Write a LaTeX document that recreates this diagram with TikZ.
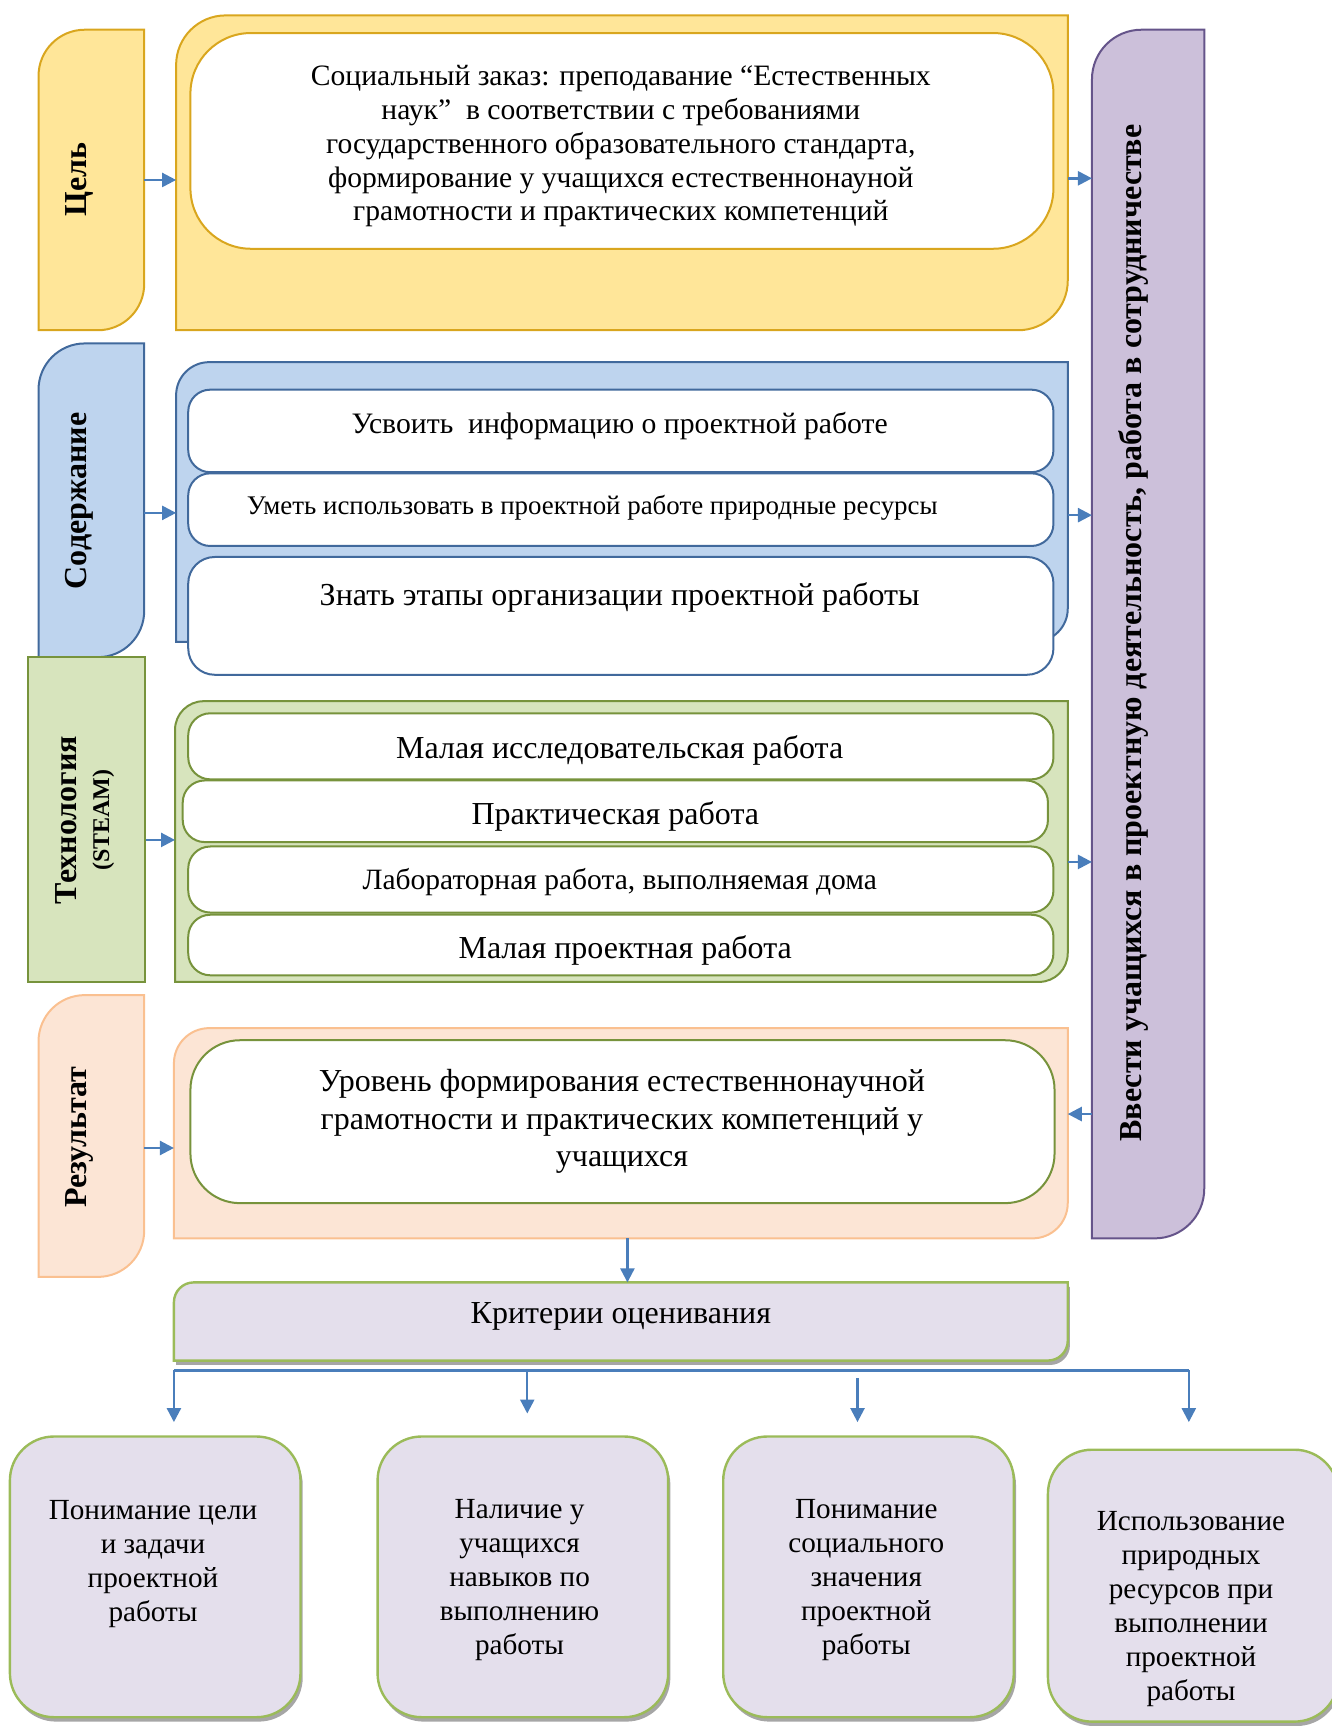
\documentclass[tikz,border=0pt]{standalone}
\usepackage{fontspec}
\setmainfont{Liberation Serif}
\usetikzlibrary{arrows.meta}
\definecolor{yelF}{HTML}{FFE699}
\definecolor{yelD}{HTML}{D9A61E}
\definecolor{bluF}{HTML}{BED4EE}
\definecolor{bluD}{HTML}{41699C}
\definecolor{grnF}{HTML}{D7E4BD}
\definecolor{grnD}{HTML}{77933C}
\definecolor{pchF}{HTML}{FCE5D5}
\definecolor{pchD}{HTML}{FAC090}
\definecolor{purF}{HTML}{CCC0DA}
\definecolor{purD}{HTML}{65548A}
\definecolor{lavF}{HTML}{E4DFEC}
\definecolor{lavD}{HTML}{9BBB59}
\definecolor{arrC}{HTML}{4A7EBB}
\newcommand\UU{0.5504pt}
\newcommand\fs[2]{\fontsize{#1}{#2}\selectfont}
% box rounded at top-left and bottom-right: name, x1,y1,x2,y2,r, style
\newcommand\tlbr[7]{%
  \path[#7] (#2,#5) -- (#2,#3+#6) arc[start angle=180,end angle=270,radius=#6]
     -- (#4,#3) -- (#4,#5-#6) arc[start angle=0,end angle=90,radius=#6] -- cycle;
  \node[anchor=center,inner sep=0pt,outer sep=0pt,minimum width={(#4-#2)*\UU},minimum height={(#5-#3)*\UU}] (#1) at ({(#2+#4)/2},{(#3+#5)/2}) {};}
% box rounded at all corners
\newcommand\allr[7]{%
  \path[#7] (#2,#3+#6) arc[start angle=180,end angle=270,radius=#6]
     -- (#4-#6,#3) arc[start angle=270,end angle=360,radius=#6]
     -- (#4,#5-#6) arc[start angle=0,end angle=90,radius=#6]
     -- (#2+#6,#5) arc[start angle=90,end angle=180,radius=#6] -- cycle;
  \node[anchor=center,inner sep=0pt,outer sep=0pt,minimum width={(#4-#2)*\UU},minimum height={(#5-#3)*\UU}] (#1) at ({(#2+#4)/2},{(#3+#5)/2}) {};}
\tikzset{
  arr/.style={draw=arrC,line width=1.2pt,-{Triangle[length=7pt,width=7pt]}},
  conn/.style={draw=arrC,line width=1.2pt},
  yelbox/.style={fill=yelF,draw=yelD,line width=1pt},
  whyel/.style={fill=white,draw=yelD,line width=1pt},
  blubox/.style={fill=bluF,draw=bluD,line width=1pt},
  whblu/.style={fill=white,draw=bluD,line width=1pt},
  grnbox/.style={fill=grnF,draw=grnD,line width=1pt},
  whgrn/.style={fill=white,draw=grnD,line width=1pt},
  pchbox/.style={fill=pchF,draw=pchD,line width=1pt},
  purbox/.style={fill=purF,draw=purD,line width=1pt},
  lavbox/.style={fill=lavF,draw=lavD,line width=1.2pt},
  shad/.style={fill=black!35,draw=none,shift={(2,4)}},
  txt/.style={anchor=center,inner sep=0pt,align=center,text=black},
  lbl/.style={anchor=center,inner sep=0pt,align=center,rotate=90,font=\bfseries\fs{16}{19}},
}
\begin{document}
\begin{tikzpicture}[x=0.5504pt,y=-0.5504pt]
\useasboundingbox (0,0) rectangle (1210,1568);
\clip (0,0) rectangle (1210,1568);
% ---------- Goal ----------
\tlbr{cel}{35}{27}{131}{300}{42}{yelbox}
\tlbr{yel}{160}{14}{970}{300}{45}{yelbox}
\allr{goal}{173}{30}{957}{226}{55}{whyel}
\node[lbl] (tcel) at (72,163) {Цель};
\node[txt,font=\fs{14.8}{16.9}] (tgoal) at (564,133) {Социальный заказ: преподавание “Естественных\\наук”~ в соответствии с требованиями\\государственного образовательного стандарта,\\формирование у учащихся естественнонауной\\грамотности и практических компетенций};
% ---------- Purple ----------
\tlbr{pur}{992}{27}{1094}{1125}{45}{purbox}
\node[lbl] (tpur) at (1030,575) {Ввести учащихся в проектную деятельность, работа в сотрудничестве};
% ---------- Content ----------
\tlbr{sod}{35}{312}{131}{597}{42}{blubox}
\tlbr{blu}{160}{329}{970}{583}{30}{blubox}
\allr{c1}{171}{354}{957}{429}{20}{whblu}
\allr{c2}{171}{430}{957}{496}{20}{whblu}
\allr{c3}{171}{506}{957}{613}{24}{whblu}
\node[lbl] (tsod) at (72,455) {Содержание};
\node[txt,font=\fs{14.85}{17}] (tc1) at (563,387) {Усвоить~ информацию о проектной работе};
\node[txt,font=\fs{13.45}{15}] (tc2) at (538,461) {Уметь использовать в проектной работе природные ресурсы};
\node[txt,font=\fs{16}{18}] (tc3) at (563,543) {Знать этапы организации проектной работы};
% ---------- Technology ----------
\path[grnbox] (25,597) rectangle (132,892);
\node[anchor=center,inner sep=0pt,minimum width={107*\UU},minimum height={295*\UU}] (tech) at (78.5,744.5) {};
\tlbr{grn}{159}{637}{970}{892}{26}{grnbox}
\allr{g1}{171}{648}{957}{708}{20}{whgrn}
\allr{g2}{166}{709}{952}{765}{20}{whgrn}
\allr{g3}{171}{769}{957}{829}{20}{whgrn}
\allr{g4}{171}{831}{957}{886}{20}{whgrn}
\node[lbl,font=\bfseries\fs{16}{16.5}] (ttech) at (77,745) {Технология\\{\fs{12}{12}(STEAM)}};
\node[txt,font=\fs{16}{18}] (tg1) at (563,682) {Малая исследовательская работа};
\node[txt,font=\fs{16}{18}] (tg2) at (559,742) {Практическая работа};
\node[txt,font=\fs{14.75}{16}] (tg3) at (563,801) {Лабораторная работа, выполняемая дома};
\node[txt,font=\fs{16}{18}] (tg4) at (568,863) {Малая проектная работа};
% ---------- Result ----------
\tlbr{res}{35}{904}{131}{1160}{42}{pchbox}
\tlbr{pch}{158}{934}{970}{1125}{32}{pchbox}
\allr{rin}{173}{945}{958}{1093}{45}{whgrn}
\node[lbl] (tres) at (72,1033) {Результат};
\node[txt,font=\fs{16}{18.7}] (trin) at (565,1019) {Уровень формирования естественнонаучной\\грамотности и практических компетенций у\\учащихся};
% ---------- Criteria ----------
\tlbr{critsh}{158}{1165}{970}{1236}{18}{shad}
\tlbr{crit}{158}{1165}{970}{1236}{18}{lavbox}
\node[txt,font=\fs{16}{18}] (tcrit) at (564,1196) {Критерии оценивания};
% ---------- Bottom boxes ----------
\allr{b1s}{9}{1305}{273}{1560}{40}{shad}
\allr{b1}{9}{1305}{273}{1560}{40}{lavbox}
\allr{b2s}{343}{1305}{607}{1560}{40}{shad}
\allr{b2}{343}{1305}{607}{1560}{40}{lavbox}
\allr{b3s}{657}{1305}{921}{1560}{40}{shad}
\allr{b3}{657}{1305}{921}{1560}{40}{lavbox}
\allr{b4s}{952}{1317}{1216}{1564}{40}{shad}
\allr{b4}{952}{1317}{1216}{1564}{40}{lavbox}
\node[txt,font=\fs{14.6}{17}] (tb1) at (139,1420.5) {Понимание цели\\и задачи\\проектной\\работы};
\node[txt,font=\fs{14.6}{17}] (tb2) at (472,1435.5) {Наличие у\\учащихся\\навыков по\\выполнению\\работы};
\node[txt,font=\fs{14.6}{17}] (tb3) at (787,1435.5) {Понимание\\социального\\значения\\проектной\\работы};
\node[txt,font=\fs{14.6}{17}] (tb4) at (1082,1462) {Использование\\природных\\ресурсов при\\выполнении\\проектной\\работы};
% ---------- Connectors ----------
\draw[arr] (cel.east) -- (cel.east -| yel.west);
\draw[arr] ([yshift=-2.75pt]yel.east) -- ([yshift=-2.75pt]yel.east -| pur.west);
\draw[arr] ([yshift=-6.3pt]sod.east) -- ([yshift=-6.3pt]sod.east -| blu.west);
\draw[arr] ([yshift=-6.6pt]blu.east) -- ([yshift=-6.6pt]blu.east -| pur.west);
\draw[arr] ([yshift=-10.2pt]tech.east) -- ([yshift=-10.2pt]tech.east -| grn.west);
\draw[arr] ([yshift=-10.2pt]grn.east) -- ([yshift=-10.2pt]grn.east -| pur.west);
\draw[arr] ([yshift=-6pt]res.east) -- ([yshift=-6pt]res.east -| pch.west);
\draw[arr] ([yshift=9.6pt]pch.east -| pur.west) -- ([yshift=9.6pt]pch.east);
\draw[arr] ([xshift=3.3pt]pch.south) -- ([xshift=3.3pt]crit.north);
\coordinate (hl) at (158,1245);
\coordinate (hr) at (1080,1245);
\coordinate (h2) at (479,1245);
\coordinate (h3) at (779,1252);
\draw[conn] (hl) -- (hr);
\draw[arr,shorten >=7.2pt] (hl) -- (hl |- b1.north);
\draw[arr,shorten >=11.5pt] (h2) -- (h2 |- b2.north);
\draw[arr,shorten >=7.2pt] (h3) -- (h3 |- b3.north);
\draw[arr,shorten >=13.8pt] (hr) -- (hr |- b4.north);
\end{tikzpicture}
\end{document}
